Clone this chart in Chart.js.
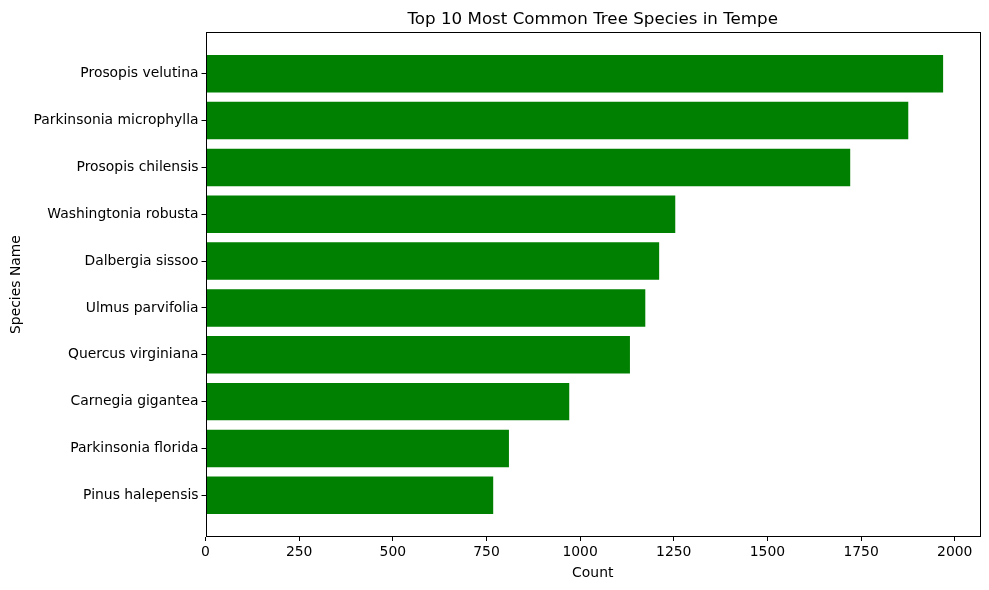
<!DOCTYPE html>
<html>
<head>
<meta charset="utf-8">
<script src="https://cdn.jsdelivr.net/npm/chart.js@4.4.0/dist/chart.umd.min.js"></script>
<style>
  html, body { margin: 0; padding: 0; background: #ffffff; }
  #wrap { width: 989px; height: 590px; position: relative; }
</style>
</head>
<body>
<div id="wrap"><canvas id="c" width="989" height="590"></canvas></div>
<script>
const species = [
  "Prosopis velutina",
  "Parkinsonia microphylla",
  "Prosopis chilensis",
  "Washingtonia robusta",
  "Dalbergia sissoo",
  "Ulmus parvifolia",
  "Quercus virginiana",
  "Carnegia gigantea",
  "Parkinsonia florida",
  "Pinus halepensis"
];
const counts = [1969, 1876, 1721, 1254, 1211, 1174, 1133, 971, 810, 768];
const xTicks = [0, 250, 500, 750, 1000, 1250, 1500, 1750, 2000];

const FONT = "'DejaVu Sans', sans-serif";

const framePlugin = {
  id: 'frame',
  afterDraw(chart) {
    const {ctx, chartArea: a} = chart;
    ctx.save();
    ctx.strokeStyle = '#000';
    ctx.lineWidth = 1;
    ctx.strokeRect(Math.round(a.left) + 0.5, Math.round(a.top) + 0.5,
                   Math.round(a.right - a.left) - 1, Math.round(a.bottom - a.top) - 1);
    ctx.restore();
  }
};

const points = counts.map((v, i) => ({x: v, y: i}));
const nBars = species.length;
const yMin = -0.4 - 0.05 * (nBars - 1 + 0.8);
const yMax = nBars - 1 + 0.4 + 0.05 * (nBars - 1 + 0.8);
const xMax = Math.max(...counts) * 1.05;

new Chart(document.getElementById('c'), {
  type: 'bar',
  data: {
    datasets: [{
      data: points,
      backgroundColor: '#008000',
      borderWidth: 0,
      categoryPercentage: 1.0,
      barPercentage: 0.8
    }]
  },
  options: {
    indexAxis: 'y',
    responsive: false,
    animation: false,
    devicePixelRatio: 1,
    layout: { padding: { left: 0, right: 9, top: 0, bottom: 0 } },
    plugins: {
      legend: { display: false },
      tooltip: { enabled: false },
      title: {
        display: true,
        fullSize: false,
        text: 'Top 10 Most Common Tree Species in Tempe',
        color: '#000',
        font: { family: FONT, size: 16.7, weight: 'normal' },
        padding: { top: 10, bottom: 2 }
      }
    },
    scales: {
      x: {
        type: 'linear',
        min: 0,
        max: xMax,
        offset: false,
        afterBuildTicks(scale) { scale.ticks = xTicks.map(v => ({value: v})); },
        afterFit(scale) { scale.height = 53; },
        grid: { display: true, offset: false, drawOnChartArea: false, drawTicks: true, tickLength: 4, color: '#000', lineWidth: 1 },
        border: { display: false },
        ticks: { color: '#000', font: { family: FONT, size: 13.9 }, padding: 3, maxRotation: 0, callback: (v) => String(v) },
        title: { display: true, text: 'Count', color: '#000', font: { family: FONT, size: 13.9 }, padding: { top: 0, bottom: 8 } }
      },
      y: {
        type: 'linear',
        reverse: true,
        min: yMin,
        max: yMax,
        offset: false,
        afterBuildTicks(scale) { scale.ticks = species.map((s, i) => ({value: i})); },
        afterFit(scale) { scale.width = 205.5; },
        grid: { display: true, offset: false, drawOnChartArea: false, drawTicks: true, tickLength: 4, color: '#000', lineWidth: 1 },
        border: { display: false },
        ticks: {
          color: '#000',
          font: { family: FONT, size: 13.9 },
          padding: 3,
          autoSkip: false,
          callback: (v) => species[v] !== undefined ? species[v] : ''
        },
        title: { display: true, text: 'Species Name', color: '#000', font: { family: FONT, size: 13.9 }, padding: { top: 8, bottom: 0 } }
      }
    }
  },
  plugins: [framePlugin]
});
</script>
</body>
</html>
